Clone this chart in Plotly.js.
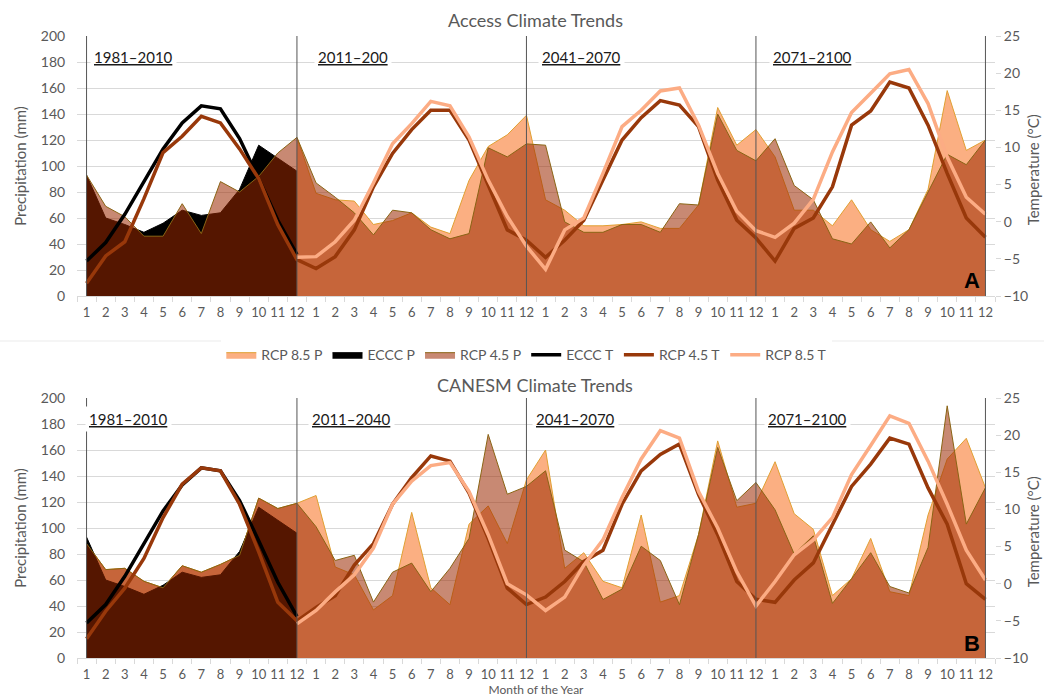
<!DOCTYPE html>
<html>
<head>
<meta charset="utf-8">
<script src="https://cdn.plot.ly/plotly-3.0.1.min.js"></script>
<style>html,body{margin:0;padding:0;background:#fff;}#chart{width:1044px;height:699px;}</style>
</head>
<body>
<div id="chart"></div>
<script>
// ---------- data ----------
const months = ['1','2','3','4','5','6','7','8','9','10','11','12'];
const periodsTop = ['1981–2010', '2011–200', '2041–2070', '2071–2100'];
const periodsBottom = ['1981–2010', '2011–2040', '2041–2070', '2071–2100'];

// observed (same in both panels), months 1-12 of 1981-2010
const ecccP = [93, 60, 55, 49, 56, 66, 62, 64, 82, 116, 106, 96];
const ecccT = [-5.3, -2.8, 1.0, 5.4, 9.8, 13.3, 15.6, 15.2, 11.2, 5.8, 0.2, -4.4];

// ACCESS
const accessP45 = [93, 69, 61, 46, 46, 71, 48, 88, 80, 92, 110, 122,
                   87, 76, 64, 47, 66, 64, 51, 44, 48, 114, 107, 117,
                   116, 57, 49, 49, 55, 55, 49, 71, 70, 140, 112, 104,
                   121, 85, 74, 44, 40, 57, 37, 51, 80, 109, 101, 120];
const accessP85 = [null, null, null, null, null, null, null, null, null, null, null, 122,
                   79, 74, 73, 55, 58, 64, 53, 48, 89, 115, 124, 139,
                   74, 66, 54, 54, 55, 57, 52, 52, 70, 145, 116, 128,
                   107, 66, 66, 54, 74, 51, 42, 51, 82, 158, 112, 120];
const accessT45 = [-8.3, -4.6, -2.7, 3.1, 9.3, 11.5, 14.2, 13.3, 9.8, 5.8, -0.4, -5.1,
                   -6.3, -4.7, -1.1, 4.7, 9.2, 12.4, 15.0, 15.0, 11.0, 4.9, -1.1, -2.5,
                   -4.8, -2.5, 0.2, 5.6, 11.0, 14.0, 16.3, 15.7, 12.8, 5.6, 0.2, -2.2,
                   -5.3, -0.9, 0.5, 4.7, 13.0, 14.9, 18.8, 18.0, 13.0, 6.5, 0.5, -2.1];
const accessT85 = [null, null, null, null, null, null, null, null, null, null, null, -4.8,
                   -4.7, -2.7, 0.2, 5.2, 10.5, 13.2, 16.2, 15.6, 11.4, 5.6, 0.7, -3.3,
                   -6.4, -1.1, 0.5, 6.5, 12.8, 15.0, 17.6, 18.0, 13.0, 6.5, 1.4, -1.2,
                   -2.1, -0.2, 3.0, 9.4, 14.7, 17.3, 19.9, 20.5, 15.9, 8.7, 3.3, 1.0];

// CANESM
const canP45 = [88, 68, 69, 59, 54, 71, 66, 72, 79, 123, 115, 119,
                101, 75, 79, 43, 66, 73, 51, 69, 92, 172, 126, 132,
                144, 83, 74, 45, 53, 86, 75, 41, 95, 162, 121, 135,
                114, 80, 94, 42, 61, 81, 55, 50, 85, 194, 103, 131];
const canP85 = [88, 68, 69, 59, 54, 71, 66, 72, 79, 123, 115, 119,
                125, 70, 64, 37, 48, 112, 54, 41, 103, 117, 88, 137,
                160, 69, 81, 59, 54, 110, 43, 48, 95, 167, 116, 119,
                151, 111, 99, 48, 61, 92, 51, 48, 110, 153, 169, 131];
const canT45 = [-7.4, -3.7, -0.6, 3.4, 8.9, 13.4, 15.6, 15.2, 10.7, 4.3, -2.5, -5.0,
                -3.2, -1.6, 2.5, 5.4, 10.7, 14.3, 17.2, 16.5, 12.2, 6.1, -0.6, -2.8,
                -1.8, 0.3, 3.0, 4.5, 10.7, 15.2, 17.4, 18.8, 12.0, 6.6, 0.3, -2.1,
                -2.5, 0.5, 2.8, 8.0, 13.1, 16.1, 19.6, 18.8, 12.9, 8.0, 0.0, -2.1];
const canT85 = [null, null, null, null, null, null, null, null, null, null, null, -5.4,
                -3.6, -1.1, 1.2, 4.8, 10.7, 13.8, 15.9, 16.3, 12.4, 6.6, 0.0, -1.5,
                -3.6, -1.8, 2.5, 5.9, 11.6, 16.8, 20.6, 19.6, 12.4, 7.5, 1.6, -3.0,
                0.3, 3.9, 5.9, 8.9, 14.7, 18.6, 22.6, 21.6, 16.5, 10.7, 4.5, 0.5];

// ---------- build ----------
const tickText = [].concat(months, months, months, months);
const idx = tickText.map((_, i) => i);
const idx12 = months.map((_, i) => i);

const C = {
  p85: 'rgb(251,175,130)', p85line: 'rgb(224,160,50)',
  p45: 'rgba(155,40,0,0.55)', p45line: 'rgb(138,100,20)',
  t45: 'rgb(152,56,10)', t85: 'rgb(252,172,132)',
  grid: '#d9d9d9', text: '#595959'
};
const FONT = 'Lato, "Open Sans", sans-serif';

function panel(xa, ya, ya2, P85, P45, T45, T85, legend) {
  return [
    {x: idx, y: P85, xaxis: xa, yaxis: ya, type: 'scatter', mode: 'lines', name: 'RCP 8.5 P',
     fill: 'tozeroy', fillcolor: C.p85, line: {color: C.p85line, width: 1}, showlegend: legend, legendgroup: 'a'},
    {x: idx12, y: ecccP, xaxis: xa, yaxis: ya, type: 'scatter', mode: 'lines', name: 'ECCC P',
     fill: 'tozeroy', fillcolor: '#000000', line: {color: '#000000', width: 1}, showlegend: legend, legendgroup: 'b'},
    {x: idx, y: P45, xaxis: xa, yaxis: ya, type: 'scatter', mode: 'lines', name: 'RCP 4.5 P',
     fill: 'tozeroy', fillcolor: C.p45, line: {color: C.p45line, width: 1}, showlegend: legend, legendgroup: 'c'},
    {x: idx12, y: ecccT, xaxis: xa, yaxis: ya2, type: 'scatter', mode: 'lines', name: 'ECCC T',
     line: {color: '#000000', width: 3.5}, showlegend: legend, legendgroup: 'd'},
    {x: idx, y: T45, xaxis: xa, yaxis: ya2, type: 'scatter', mode: 'lines', name: 'RCP 4.5 T',
     line: {color: C.t45, width: 3.5}, showlegend: legend, legendgroup: 'e'},
    {x: idx, y: T85, xaxis: xa, yaxis: ya2, type: 'scatter', mode: 'lines', name: 'RCP 8.5 T',
     line: {color: C.t85, width: 3.5}, showlegend: legend, legendgroup: 'f'}
  ];
}

const data = [].concat(
  panel('x', 'y', 'y2', accessP85, accessP45, accessT45, accessT85, true),
  panel('x2', 'y3', 'y4', canP85, canP45, canT45, canT85, false)
);

function xaxisDef(anchor, title) {
  const a = {
    domain: [0, 1], anchor: anchor, range: [-0.5, 47.5],
    tickmode: 'array', tickvals: idx, ticktext: tickText,
    tickfont: {family: FONT, size: 13, color: C.text},
    showgrid: false, zeroline: false, showline: true, linecolor: C.grid, linewidth: 1,
    ticks: 'outside', ticklen: 4, tickcolor: 'rgba(0,0,0,0)',
    minor: {tickmode: 'linear', tick0: -0.5, dtick: 1, ticks: 'outside', ticklen: 5, tickcolor: C.grid, showgrid: false}
  };
  if (title) a.title = {text: title, font: {family: FONT, size: 12, color: C.text}, standoff: 4};
  return a;
}
function yLeft(domain, anchor) {
  return {
    domain: domain, anchor: anchor, range: [0, 200], dtick: 20,
    gridcolor: C.grid, gridwidth: 1, zeroline: false, showline: false,
    ticks: 'outside', ticklen: 8, tickcolor: 'rgba(0,0,0,0)',
    tickfont: {family: FONT, size: 14, color: C.text},
    title: {text: 'Precipitation (mm)', font: {family: FONT, size: 15, color: C.text}, standoff: 10}
  };
}
function yRight(over, anchor) {
  return {
    overlaying: over, side: 'right', anchor: anchor, range: [-10, 25], dtick: 5,
    showgrid: false, zeroline: false, showline: false,
    ticks: 'outside', ticklen: 5, tickcolor: C.grid,
    tickfont: {family: FONT, size: 14, color: C.text}
  };
}

const dividers = [0, 11, 23, 35, 47];
const shapes = [];
dividers.forEach(d => {
  shapes.push({type: 'line', xref: 'x', yref: 'y', x0: d, x1: d, y0: 0, y1: 200, line: {color: '#555555', width: 1}, layer: 'above'});
  shapes.push({type: 'line', xref: 'x2', yref: 'y3', x0: d, x1: d, y0: 0, y1: 200, line: {color: '#555555', width: 1}, layer: 'above'});
});
shapes.push({type: 'line', xref: 'paper', yref: 'paper', x0: -0.09, x1: 1.06, y0: 0.5096, y1: 0.5096, line: {color: '#ebebeb', width: 1}});

const labelX = [0.2, 11.9, 23.6, 35.7];
const annotations = [];
periodsTop.forEach((t, i) => annotations.push({
  xref: 'x', yref: 'y', x: labelX[i], y: 184, xanchor: 'left', yanchor: 'middle', showarrow: false,
  text: '<u>' + t + '</u>', font: {family: FONT, size: 15, color: '#1a1a1a'}, bgcolor: '#ffffff', borderpad: 3
}));
periodsBottom.forEach((t, i) => annotations.push({
  xref: 'x2', yref: 'y3', x: labelX[i] - 0.3, y: 184, xanchor: 'left', yanchor: 'middle', showarrow: false,
  text: '<u>' + t + '</u>', font: {family: FONT, size: 15, color: '#1a1a1a'}, bgcolor: '#ffffff', borderpad: 3
}));
annotations.push({xref: 'paper', yref: 'paper', x: 0.499, y: 1.0257, xanchor: 'center', yanchor: 'middle', showarrow: false,
  text: 'Access Climate Trends', font: {family: FONT, size: 18, color: C.text}});
annotations.push({xref: 'paper', yref: 'paper', x: 0.499, y: 0.439, xanchor: 'center', yanchor: 'middle', showarrow: false,
  text: 'CANESM Climate Trends', font: {family: FONT, size: 18, color: C.text}});
[0.785, 0.203].forEach(yy => annotations.push({xref: 'paper', yref: 'paper', x: 1.041, y: yy, xanchor: 'center', yanchor: 'middle',
  showarrow: false, textangle: -90, text: 'Temperature (°C)', font: {family: FONT, size: 15, color: C.text}}));
annotations.push({xref: 'x', yref: 'y', x: 46.3, y: 12, showarrow: false, xanchor: 'center', yanchor: 'middle',
  text: '<b>A</b>', font: {family: 'Liberation Sans, Arial, sans-serif', size: 22, color: '#000'}});
annotations.push({xref: 'x2', yref: 'y3', x: 46.3, y: 11, showarrow: false, xanchor: 'center', yanchor: 'middle',
  text: '<b>B</b>', font: {family: 'Liberation Sans, Arial, sans-serif', size: 22, color: '#000'}});

const layout = {
  width: 1044, height: 699,
  margin: {l: 77, r: 49, t: 36, b: 41},
  paper_bgcolor: '#ffffff', plot_bgcolor: '#ffffff',
  font: {family: FONT, color: C.text},
  showlegend: true,
  legend: {orientation: 'h', x: 0.49, xanchor: 'center', y: 0.487, yanchor: 'middle',
           font: {family: FONT, size: 14, color: C.text}, traceorder: 'normal', itemwidth: 30},
  xaxis: xaxisDef('y', null),
  yaxis: yLeft([0.582, 1], 'x'),
  yaxis2: yRight('y', 'x'),
  xaxis2: xaxisDef('y3', 'Month of the Year'),
  yaxis3: yLeft([0, 0.418], 'x2'),
  yaxis4: yRight('y3', 'x2'),
  shapes: shapes,
  annotations: annotations
};

Plotly.newPlot('chart', data, layout, {displayModeBar: false, staticPlot: true});
</script>
</body>
</html>
